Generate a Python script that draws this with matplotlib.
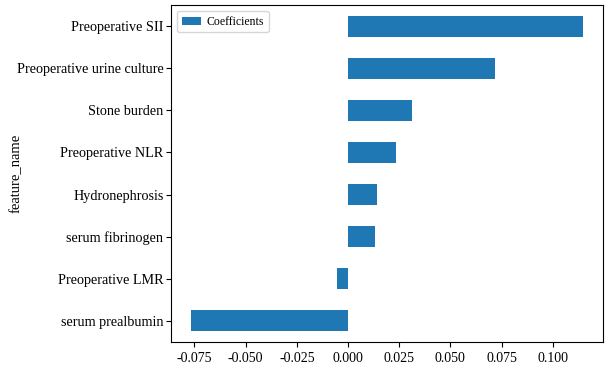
import numpy as np
import matplotlib
matplotlib.use("Agg")
from matplotlib import pyplot as plt

plt.rcParams['font.family'] = ['Liberation Serif', 'DejaVu Serif']

# features, bottom to top as drawn
features = ['serum prealbumin', 'Preoperative LMR', 'serum fibrinogen',
            'Hydronephrosis', 'Preoperative NLR', 'Stone burden',
            'Preoperative urine culture', 'Preoperative SII']
coefs = [-0.0768, -0.0054, 0.0134, 0.0143, 0.0234, 0.0311, 0.0716, 0.1149]
xticks = [-0.075, -0.050, -0.025, 0.000, 0.025, 0.050, 0.075, 0.100]

fig = plt.figure(figsize=(6.09, 3.68), dpi=100)
ax = fig.add_axes([0.281, 0.071, 0.709, 0.915])

y = np.arange(len(features))
ax.barh(y, coefs, height=0.5, color='#1f77b4', label='Coefficients')
ax.set_yticks(y)
ax.set_yticklabels(features, fontsize=10.2)
ax.tick_params(axis='y', pad=2)
ax.set_ylim(-0.5, len(features) - 0.5)
ax.set_xticks(xticks)
ax.set_xticklabels(['%.3f' % v for v in xticks], fontsize=10)
ax.margins(x=0.05)
ax.set_ylabel('feature_name', fontsize=10.5)
ax.yaxis.set_label_coords(-0.343, 0.5)
ax.legend(loc='upper left', fontsize=8.5, handlelength=1.6, handletextpad=0.5)

plt.savefig('out.png', dpi=100)
